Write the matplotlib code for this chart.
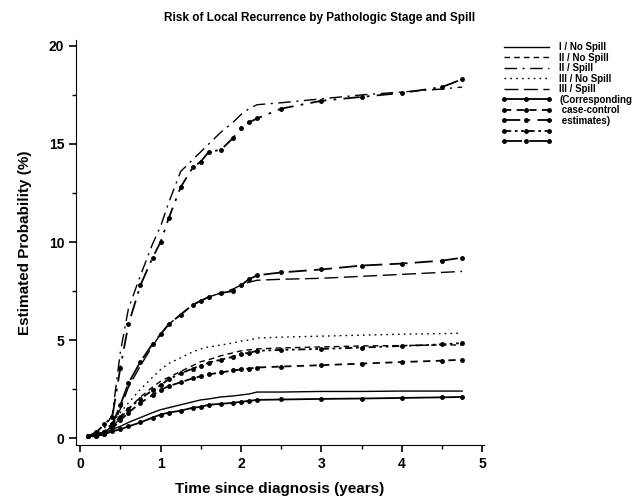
import numpy as np
import matplotlib
matplotlib.use('Agg')
import matplotlib.pyplot as plt
from matplotlib.ticker import MultipleLocator

plt.rcParams['font.family'] = ['Liberation Sans', 'DejaVu Sans']

# time points (years)
t = [0.1, 0.2, 0.3, 0.4, 0.5, 0.6, 0.75, 0.9, 1.0, 1.1, 1.25, 1.4, 1.5, 1.6,
     1.75, 1.9, 2.0, 2.1, 2.2, 2.5, 3.0, 3.5, 4.0, 4.5, 4.75]

# model estimates (%)
i_nospill   = [0.1, 0.15, 0.25, 0.45, 0.6, 0.8, 1.05, 1.3, 1.45, 1.55, 1.7, 1.85, 1.95, 2.0,
               2.1, 2.15, 2.2, 2.25, 2.35, 2.35, 2.38, 2.38, 2.4, 2.4, 2.4]
ii_nospill  = [0.1, 0.2, 0.3, 0.6, 1.0, 1.5, 2.1, 2.6, 2.9, 3.1, 3.4, 3.7, 3.9, 4.0,
               4.2, 4.35, 4.45, 4.5, 4.55, 4.6, 4.65, 4.7, 4.72, 4.75, 4.75]
ii_spill    = [0.1, 0.3, 0.5, 1.2, 4.4, 6.6, 8.3, 9.9, 10.8, 12.0, 13.6, 14.2, 14.6, 15.0,
               15.6, 16.1, 16.5, 16.8, 17.0, 17.1, 17.3, 17.5, 17.65, 17.8, 17.9]
iii_nospill = [0.1, 0.2, 0.35, 0.8, 1.3, 1.8, 2.5, 3.1, 3.5, 3.8, 4.1, 4.4, 4.55, 4.65,
               4.75, 4.85, 4.95, 5.0, 5.1, 5.15, 5.2, 5.25, 5.3, 5.33, 5.35]
iii_spill   = [0.1, 0.2, 0.3, 0.6, 1.5, 2.6, 3.7, 4.7, 5.3, 5.8, 6.3, 6.8, 7.0, 7.2,
               7.4, 7.6, 7.8, 7.95, 8.05, 8.1, 8.15, 8.25, 8.35, 8.45, 8.5]

# corresponding case-control estimates (%)
i_cc        = [0.1, 0.1, 0.2, 0.35, 0.45, 0.6, 0.8, 1.05, 1.2, 1.3, 1.4, 1.55, 1.6, 1.7,
               1.75, 1.8, 1.85, 1.9, 1.95, 1.97, 2.0, 2.02, 2.05, 2.08, 2.1]
ii_cc       = [0.1, 0.1, 0.2, 0.5, 0.9, 1.3, 1.8, 2.2, 2.45, 2.65, 2.85, 3.05, 3.15, 3.25,
               3.35, 3.45, 3.5, 3.55, 3.6, 3.65, 3.72, 3.8, 3.88, 3.95, 4.0]
ii_spill_cc = [0.1, 0.3, 0.7, 1.1, 3.6, 5.8, 7.8, 9.2, 10.0, 11.2, 12.8, 13.8, 14.1, 14.6,
               14.7, 15.3, 15.8, 16.1, 16.3, 16.8, 17.2, 17.4, 17.6, 17.9, 18.3]
iii_cc      = [0.1, 0.15, 0.3, 0.7, 1.1, 1.5, 2.0, 2.45, 2.7, 3.0, 3.3, 3.55, 3.7, 3.85,
               4.0, 4.15, 4.3, 4.35, 4.45, 4.5, 4.55, 4.62, 4.7, 4.78, 4.85]
iii_spill_cc = [0.1, 0.2, 0.3, 0.7, 1.7, 2.8, 3.9, 4.8, 5.3, 5.8, 6.3, 6.8, 7.0, 7.2,
                7.4, 7.5, 7.8, 8.1, 8.3, 8.45, 8.6, 8.8, 8.9, 9.05, 9.2]

labels = ['I / No Spill', 'II / No Spill', 'II / Spill', 'III / No Spill', 'III / Spill',
          '(Corresponding', ' case-control', ' estimates)', '', '']

styles = ['-', (0, (4, 3)), (0, (9, 4, 1.5, 4)), (0, (1.2, 3)), (0, (10, 4))]
cc_styles = ['-', (0, (4, 3)), (0, (9, 4, 1.5, 4)), (0, (4, 2, 1.5, 2, 1.5, 2)), (0, (10, 4))]

fig = plt.figure(figsize=(6.4, 5), dpi=100)
ax = fig.add_axes([0.119, 0.11, 0.637, 0.81])

model = [i_nospill, ii_nospill, ii_spill, iii_nospill, iii_spill]
cc = [i_cc, ii_cc, ii_spill_cc, iii_cc, iii_spill_cc]
handles = []
for y, ls in zip(model, styles):
    h, = ax.plot(t, y, color='black', lw=1.0, linestyle=ls)
    handles.append(h)
for y, ls in zip(cc, cc_styles):
    h, = ax.plot(t, y, color='black', lw=1.3, linestyle=ls, marker='o', markersize=2.5)
    handles.append(h)

ax.set_xlim(-0.05, 5.02)
ax.set_ylim(-0.35, 20.3)
ax.xaxis.set_major_locator(MultipleLocator(1))
ax.xaxis.set_minor_locator(MultipleLocator(0.5))
ax.yaxis.set_major_locator(MultipleLocator(5))
ax.yaxis.set_minor_locator(MultipleLocator(2.5))
ax.spines['top'].set_visible(False)
ax.spines['right'].set_visible(False)
ax.tick_params(which='major', length=5, width=1.2, labelsize=10)
ax.tick_params(which='minor', length=3, width=1.0)
for lab in ax.get_xticklabels() + ax.get_yticklabels():
    lab.set_fontweight('bold')

ax.set_xlabel('Time since diagnosis (years)', fontsize=11, fontweight='bold', labelpad=8)
ax.set_ylabel('Estimated Probability (%)', fontsize=11, fontweight='bold', labelpad=12)
fig.text(0.5, 0.964, 'Risk of Local Recurrence by Pathologic Stage and Spill',
         ha='center', va='center', fontsize=8.5, fontweight='bold')

leg = fig.legend(handles, labels, loc='upper left', bbox_to_anchor=(0.775, 0.925),
                 frameon=False, fontsize=7, handlelength=5.2, handletextpad=0.8,
                 labelspacing=0.05, borderpad=0, numpoints=3)
for txt in leg.get_texts():
    txt.set_fontweight('bold')

fig.savefig('out.png', dpi=100)
